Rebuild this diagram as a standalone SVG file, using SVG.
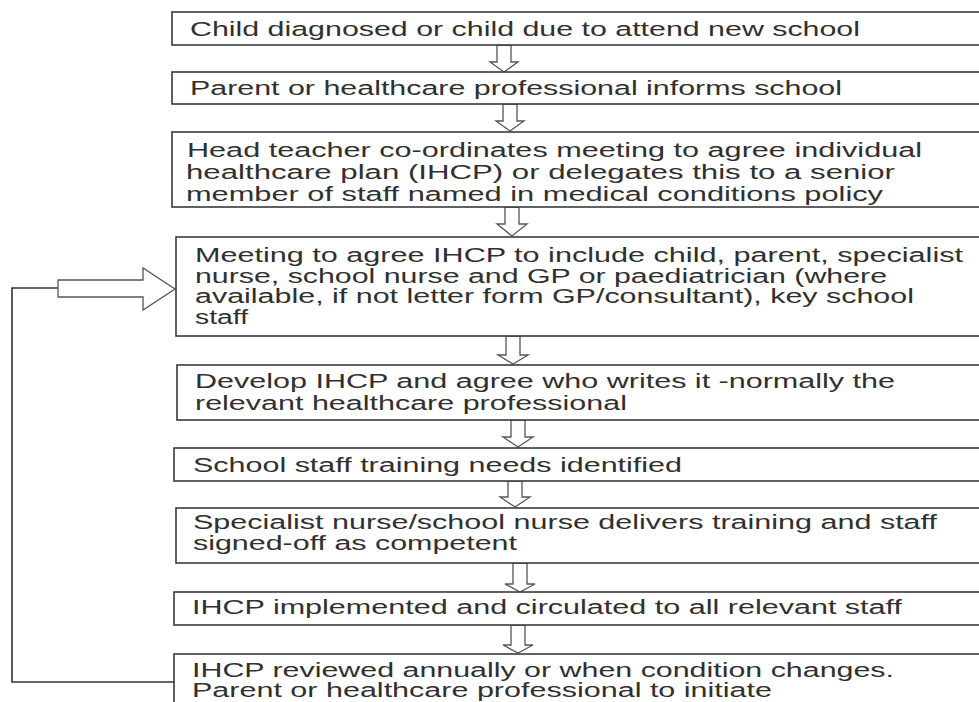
<svg xmlns="http://www.w3.org/2000/svg" width="979" height="702" viewBox="0 0 979 702">
<style>
.box{fill:#fff;stroke:#3a3a3a;stroke-width:1.6}
.t{font-family:"Liberation Sans",Arial,sans-serif;font-size:20px;fill:#303030}
.arr{fill:#fff;stroke:#555;stroke-width:1.3;stroke-linejoin:miter}
.ln{fill:none;stroke:#333;stroke-width:1.6}
</style>
<rect width="979" height="702" fill="#fff"/>
<g id="connectors">
<path class="arr" d="M497,45 L511,45 L511,62 L518,62 L504,72 L490,62 L497,62 Z"/>
<path class="arr" d="M503,104 L517,104 L517,121 L524,121 L510,131 L496,121 L503,121 Z"/>
<path class="arr" d="M505,207 L519,207 L519,224 L527,224 L512,236 L497,224 L505,224 Z"/>
<path class="arr" d="M506,336 L520,336 L520,355 L528,355 L513,364 L498,355 L506,355 Z"/>
<path class="arr" d="M511,420 L525,420 L525,437 L533,437 L518,447 L503,437 L511,437 Z"/>
<path class="arr" d="M508,481 L522,481 L522,497 L530,497 L515,507 L500,497 L508,497 Z"/>
<path class="arr" d="M513,563 L527,563 L527,584 L535,584 L520,592 L505,584 L513,584 Z"/>
<path class="arr" d="M511,625 L525,625 L525,645 L533,645 L518,653 L503,645 L511,645 Z"/>
<polyline class="ln" points="174,682 12,682 12,288 58,288"/>
<path class="arr" d="M58,280 L143,280 L143,268 L175,289 L143,310 L143,297 L58,297 Z"/>
</g>
<g id="n1"><rect class="box" x="172" y="12" width="830" height="33"/>
<text class="t" x="190" y="36" textLength="670" lengthAdjust="spacingAndGlyphs">Child diagnosed or child due to attend new school</text></g>
<g id="n2"><rect class="box" x="172" y="72" width="830" height="32"/>
<text class="t" x="190" y="95" textLength="652" lengthAdjust="spacingAndGlyphs">Parent or healthcare professional informs school</text></g>
<g id="n3"><rect class="box" x="172" y="132" width="830" height="75"/>
<text class="t" x="187" y="157" textLength="735" lengthAdjust="spacingAndGlyphs">Head teacher co-ordinates meeting to agree individual</text>
<text class="t" x="186" y="179" textLength="709" lengthAdjust="spacingAndGlyphs">healthcare plan (IHCP) or delegates this to a senior</text>
<text class="t" x="186" y="201" textLength="697" lengthAdjust="spacingAndGlyphs">member of staff named in medical conditions policy</text></g>
<g id="n4"><rect class="box" x="176" y="237" width="830" height="99"/>
<text class="t" x="195" y="262" textLength="768" lengthAdjust="spacingAndGlyphs">Meeting to agree IHCP to include child, parent, specialist</text>
<text class="t" x="195" y="283" textLength="692" lengthAdjust="spacingAndGlyphs">nurse, school nurse and GP or paediatrician (where</text>
<text class="t" x="195" y="303" textLength="719" lengthAdjust="spacingAndGlyphs">available, if not letter form GP/consultant), key school</text>
<text class="t" x="195" y="324" textLength="53" lengthAdjust="spacingAndGlyphs">staff</text></g>
<g id="n5"><rect class="box" x="177" y="365" width="830" height="55"/>
<text class="t" x="195" y="388" textLength="700" lengthAdjust="spacingAndGlyphs">Develop IHCP and agree who writes it -normally the</text>
<text class="t" x="195" y="410" textLength="432" lengthAdjust="spacingAndGlyphs">relevant healthcare professional</text></g>
<g id="n6"><rect class="box" x="174" y="448" width="830" height="33"/>
<text class="t" x="193" y="472" textLength="489" lengthAdjust="spacingAndGlyphs">School staff training needs identified</text></g>
<g id="n7"><rect class="box" x="176" y="508" width="830" height="55"/>
<text class="t" x="193" y="529" textLength="744" lengthAdjust="spacingAndGlyphs">Specialist nurse/school nurse delivers training and staff</text>
<text class="t" x="193" y="550" textLength="324" lengthAdjust="spacingAndGlyphs">signed-off as competent</text></g>
<g id="n8"><rect class="box" x="174" y="592" width="830" height="33"/>
<text class="t" x="192" y="614" textLength="710" lengthAdjust="spacingAndGlyphs">IHCP implemented and circulated to all relevant staff</text></g>
<g id="n9"><rect class="box" x="174" y="654" width="830" height="70"/>
<text class="t" x="192" y="677" textLength="702" lengthAdjust="spacingAndGlyphs">IHCP reviewed annually or when condition changes.</text>
<text class="t" x="192" y="697" textLength="580" lengthAdjust="spacingAndGlyphs">Parent or healthcare professional to initiate</text></g>
</svg>
